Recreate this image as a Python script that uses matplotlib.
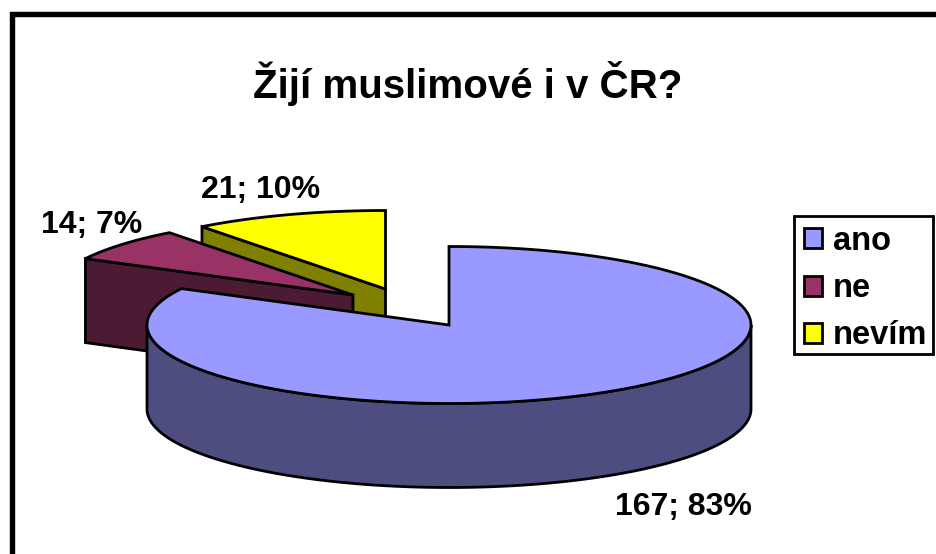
import numpy as np
import matplotlib
matplotlib.use("Agg")
import matplotlib.pyplot as plt
from matplotlib.patches import Polygon, Patch, Rectangle

categories = ["ano", "ne", "nevím"]
values = [167, 14, 21]
top_colors = ["#9999FF", "#993366", "#FFFF00"]
side_colors = ["#4D4D80", "#4D1A33", "#808000"]
title = "Žijí muslimové i v ČR?"

# pie geometry, in pixels of the figure
centers = [(449, 325), (353, 295), (385.5, 289)]
label_pos = [(683, 507), (92, 225), (261, 190)]
rx, ry, depth = 302, 78.5, 84

plt.rcParams["font.family"] = "Liberation Sans"
plt.rcParams["font.weight"] = "bold"

fig = plt.figure(figsize=(9.36, 5.54), dpi=100)
ax = fig.add_axes([0, 0, 1, 1])
ax.set_xlim(0, 936)
ax.set_ylim(554, 0)
ax.axis("off")

total = sum(values)
ends = np.cumsum(values) / total * 360
starts = np.concatenate([[0], ends[:-1]])


# clockwise angle from 12 o'clock to a point on the rim
def rim(c, deg):
    t = np.radians(deg)
    return np.column_stack([c[0] + rx * np.sin(t), c[1] - ry * np.cos(t)])


def poly(pts, color, z):
    ax.add_patch(Polygon(pts, closed=True, facecolor=color, edgecolor="black",
                         linewidth=2.0, joinstyle="miter", zorder=z))


# back slices first, the big one goes on top
for i in [2, 1, 0]:
    c = centers[i]
    z = 3 - i if i else 5
    if i == 0:
        # front wall of the rim
        arc = rim(c, np.linspace(90, 270, 200))
        poly(np.vstack([arc, (arc + [0, depth])[::-1]]), side_colors[i], z)
    else:
        # cut face between the rim and the apex
        p = rim(c, np.array([starts[i]]))[0]
        poly([p, c, (c[0], c[1] + depth), (p[0], p[1] + depth)], side_colors[i], z)
    arc = rim(c, np.linspace(starts[i], ends[i], 200))
    poly(np.vstack([[c], arc]), top_colors[i], z)

for v, pos in zip(values, label_pos):
    ax.text(pos[0], pos[1], f"{v}; {round(100 * v / total)}%", fontsize=23,
            ha="center", va="center", zorder=8)

ax.text(468, 83, title, fontsize=29, ha="center", va="center")

# chart frame, only left and top fall inside the picture
ax.plot([11.5, 11.5, 936], [554, 13.5, 13.5], color="black", lw=3.9,
        solid_joinstyle="miter", zorder=9)

ax.add_patch(Rectangle((794, 216), 139, 138, facecolor="white", edgecolor="black",
                       linewidth=2.0, zorder=9))
handles = [Patch(facecolor=col, edgecolor="black", linewidth=2.0) for col in top_colors]
leg = ax.legend(handles, categories, loc="upper left", bbox_to_anchor=(794, 216),
                bbox_transform=ax.transData, fontsize=23.5, frameon=False,
                borderpad=0.3, labelspacing=0.5,
                handlelength=0.56, handleheight=0.56, handletextpad=0.32, borderaxespad=0)
leg.set_zorder(10)

fig.savefig("out.png", dpi=100)
